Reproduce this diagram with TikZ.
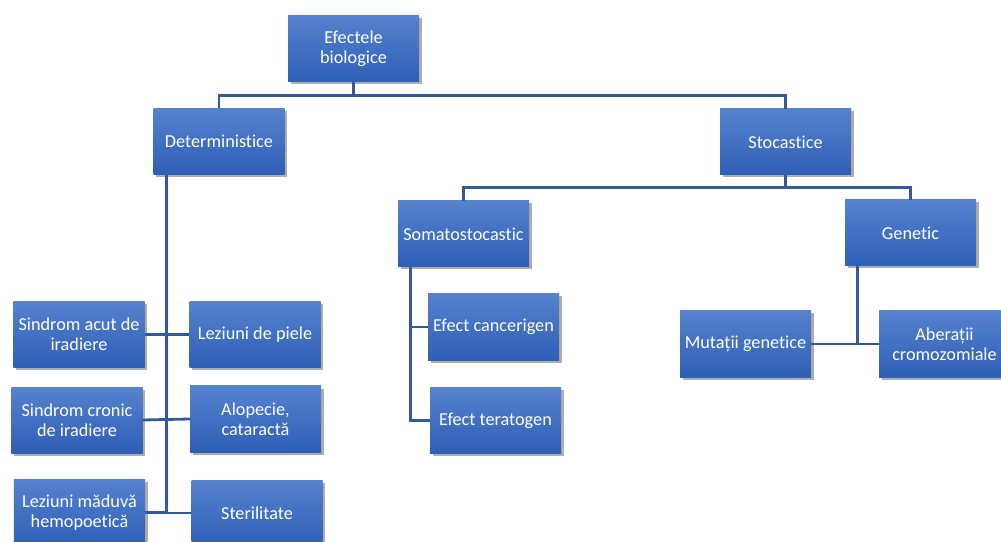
\documentclass[tikz,border=0pt]{standalone}
\usepackage{fontspec}
\setmainfont[Ligatures={NoCommon}]{Carlito}
\usetikzlibrary{shadows}
\definecolor{boxtop}{RGB}{86,130,206}
\definecolor{boxbot}{RGB}{46,94,182}
\definecolor{linec}{RGB}{50,88,158}
\tikzset{
  box/.style={rectangle, minimum width=131bp, minimum height=66bp, inner sep=2bp,
    top color=boxtop, bottom color=boxbot, draw=none, text=white, align=center,
    font=\fontsize{18.3}{20.5}\selectfont,
    drop shadow={shadow xshift=2.5bp, shadow yshift=-2.5bp, opacity=0.45, fill=black!70}},
  conn/.style={draw=linec, line width=2.8bp}
}
\begin{document}
\begin{tikzpicture}[x=1bp,y=-1bp]
\useasboundingbox (0,0) rectangle (1001,542);
% boxes
\node[box] (efecte) at (353.5,49) {Efectele\\biologice};
\node[box] (det) at (219,141.5) {Deterministice};
\node[box] (stoc) at (785.5,142) {Stocastice};
\node[box] (soma) at (463.5,234) {Somatostocastic};
\node[box] (gen) at (910.5,233) {Genetic};
\node[box] (canc) at (493.5,327) {Efect cancerigen};
\node[box] (terat) at (495.5,420.5) {Efect teratogen};
\node[box] (mut) at (745.5,344) {Mutații genetice};
\node[box] (aber) at (944.5,344) {Aberații\\cromozomiale};
\node[box] (acut) at (79,334.5) {Sindrom acut de\\iradiere};
\node[box] (piele) at (255,334.5) {Leziuni de piele};
\node[box] (cronic) at (77,420) {Sindrom cronic\\de iradiere};
\node[box] (alop) at (255.5,419) {Alopecie,\\cataractă};
\node[box] (madu) at (79.5,512.5) {Leziuni măduvă\\hemopoetică};
\node[box] (ster) at (257,513) {Sterilitate};
% connectors level 1
\draw[conn] (efecte.south) -- ++(0,13) coordinate (j1);
\draw[conn] (det.north) |- (j1) -| (stoc.north);
% level 2
\draw[conn] (stoc.south) -- ++(0,12) coordinate (j2);
\draw[conn] (soma.north) |- (j2) -| (gen.north);
% deterministic branch
\path (det.south west) ++(13,0) coordinate (d0);
\draw[conn] (d0) -- (d0 |- ster.west) -- (ster.west);
\draw[conn] (acut.east) -- (piele.west);
\draw[conn] (cronic.east) -- (alop.west);
\draw[conn] (madu.east) -- (madu.east -| d0);
% somatostocastic branch
\path (soma.south west) ++(13,0) coordinate (s0);
\draw[conn] (s0) |- (canc.west);
\draw[conn] (s0) |- (terat.west);
% genetic branch
\path (gen.south west) ++(13,0) coordinate (g0);
\draw[conn] (g0) -- (g0 |- mut.east);
\draw[conn] (mut.east) -- (aber.west);
\end{tikzpicture}
\end{document}
